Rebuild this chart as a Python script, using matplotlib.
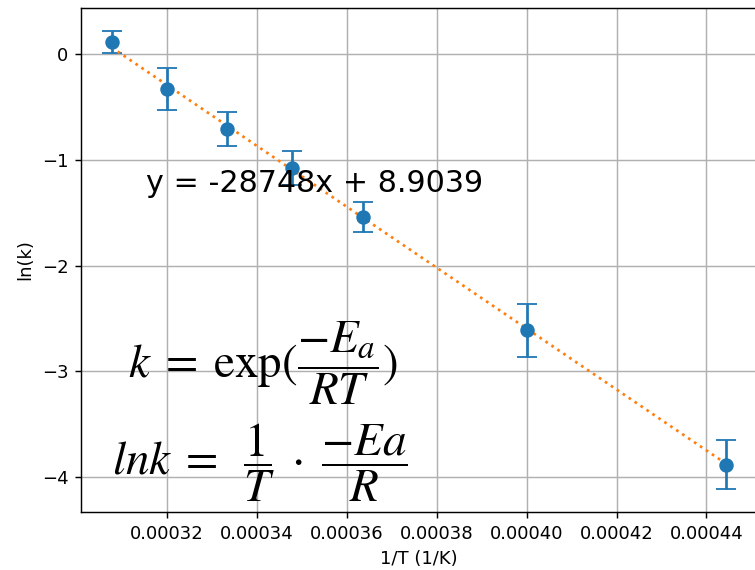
import numpy as np
import matplotlib.pyplot as plt

# 1/T (1/K) and measured ln(k) with errors
inv_t = [0.0003077, 0.00032, 0.0003333, 0.0003478, 0.0003636, 0.0004, 0.0004444]
ln_k = [0.11, -0.334, -0.71, -1.08, -1.54, -2.61, -3.88]
ln_k_err = [0.105, 0.2, 0.16, 0.16, 0.14, 0.25, 0.23]

# linear fit result shown on the plot
slope = -28748
intercept = 8.9039

fig = plt.figure(figsize=(755 / 130, 570 / 130), dpi=130)
ax = fig.add_axes([81 / 755, 58 / 570, 676 / 755, 504 / 570])

ax.errorbar(inv_t, ln_k, yerr=ln_k_err, fmt='o', markersize=7, capsize=5.5)
xs = np.array([min(inv_t), max(inv_t)])
ax.plot(xs, slope * xs + intercept, ':', color='C1')

ax.set_xlabel('1/T (1/K)')
ax.set_ylabel('ln(k)')
ax.grid(True)

fig.text(146 / 755, 1 - 183 / 570, 'y = -28748x + 8.9039', fontsize=16.7, va='center')

plt.rcParams['mathtext.fontset'] = 'stix'
fig.text(128 / 755, 1 - 378 / 570, r'$k\;=\;\exp(\dfrac{-E_a}{RT})$', fontsize=26, va='baseline')
fig.text(112 / 755, 1 - 475 / 570, r'$lnk\;=\;\;\dfrac{1}{T}\;\cdot\;\dfrac{-Ea}{R}$', fontsize=26, va='baseline')

fig.savefig('out.png', dpi=130)
